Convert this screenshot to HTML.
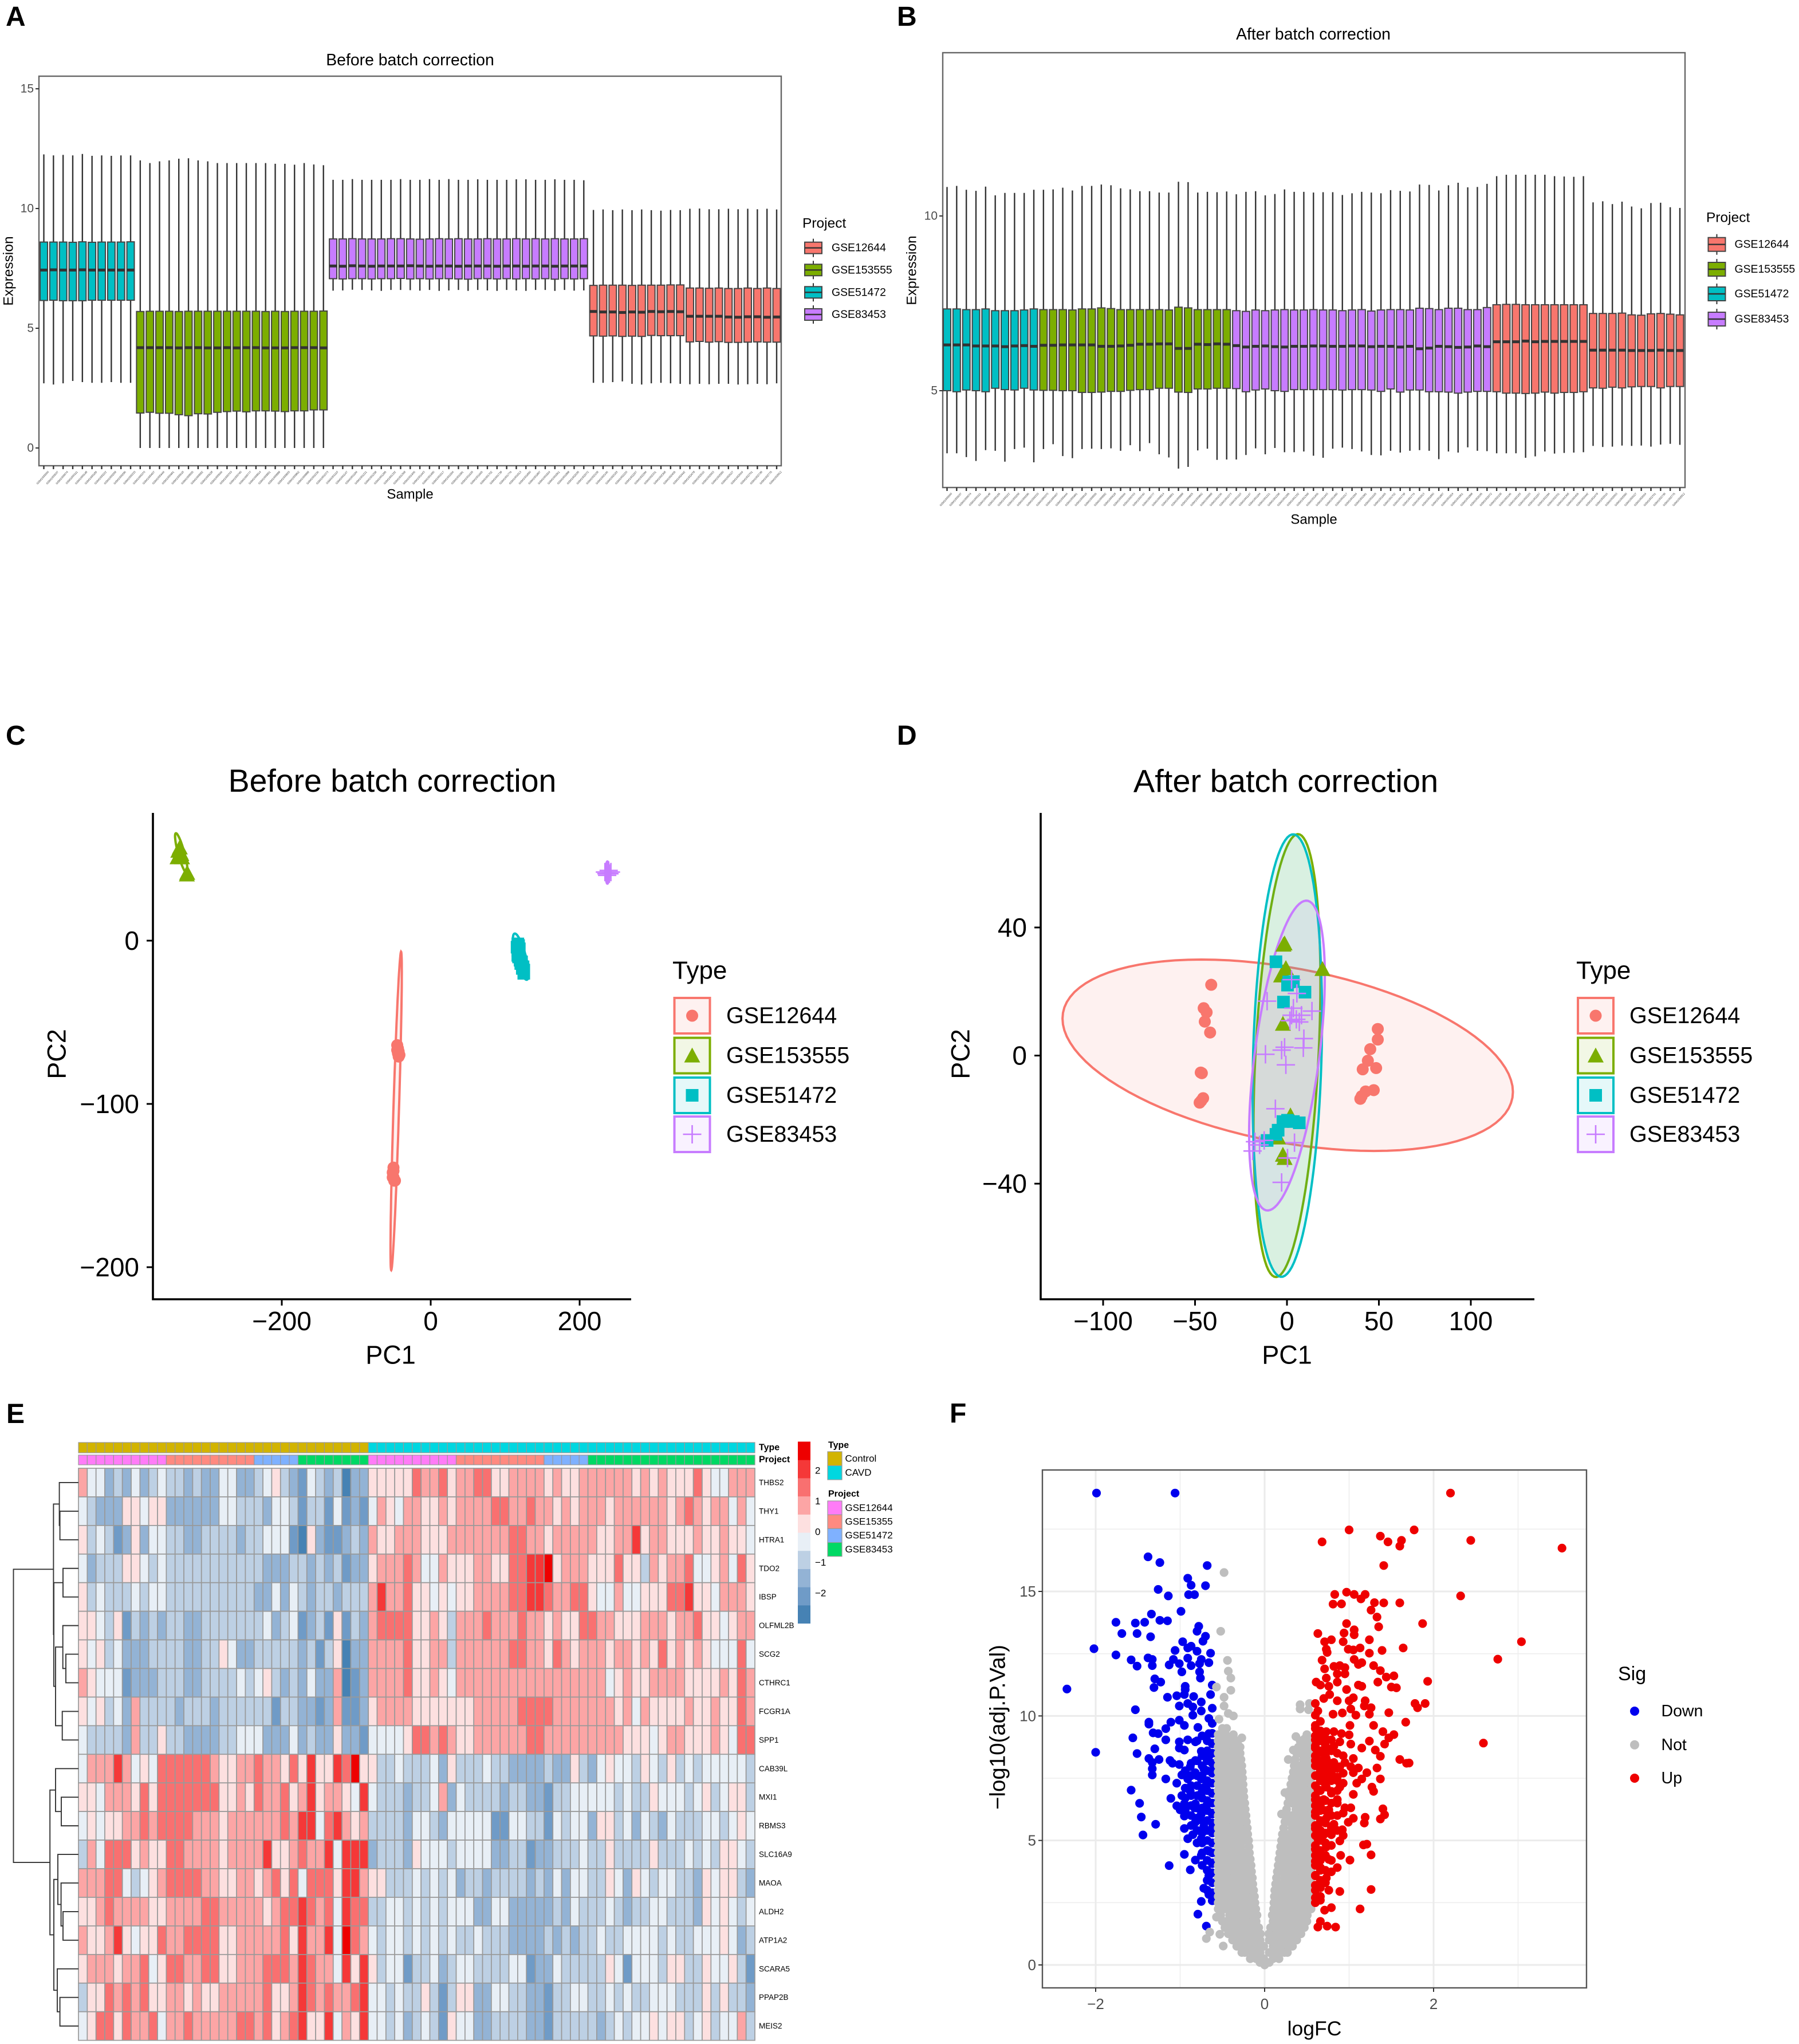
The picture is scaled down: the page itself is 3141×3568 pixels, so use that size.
<!DOCTYPE html>
<html lang="en">
<head>
<meta charset="utf-8">
<title>Batch correction figure</title>
<style>
html,body{margin:0;padding:0;background:#fff}
svg{display:block}
text{font-family:"Liberation Sans",Arial,sans-serif;fill:#000}
.lt{font-weight:bold;font-size:48px}
.tick{fill:#4d4d4d}
.tiny{fill:#333}
</style>
</head>
<body>
<svg id="figure" width="3141" height="3568" viewBox="0 0 3141 3568">
<rect x="0" y="0" width="3141" height="3568" fill="#fff"/>
<text class="lt" x="10" y="45">A</text>
<text class="lt" x="1566" y="45">B</text>
<text class="lt" x="10" y="1300">C</text>
<text class="lt" x="1566" y="1300">D</text>
<text class="lt" x="11" y="2484">E</text>
<text class="lt" x="1658" y="2483">F</text>

<g id="panel-a">
<text x="716" y="105" text-anchor="middle" dominant-baseline="central" font-size="28.4">Before batch correction</text>
<text x="716" y="863" text-anchor="middle" dominant-baseline="central" font-size="24">Sample</text>
<text transform="translate(15,473) rotate(-90)" text-anchor="middle" dominant-baseline="central" font-size="24.5">Expression</text>
<text x="1401" y="390" dominant-baseline="central" font-size="24.5">Project</text>
</g>
<g id="panel-b">
<text x="2293" y="60" text-anchor="middle" dominant-baseline="central" font-size="28.4">After batch correction</text>
<text x="2294" y="907" text-anchor="middle" dominant-baseline="central" font-size="24">Sample</text>
<text transform="translate(1592,472) rotate(-90)" text-anchor="middle" dominant-baseline="central" font-size="24.5">Expression</text>
<text x="2979" y="380" dominant-baseline="central" font-size="24.5">Project</text>
</g>
<g id="panel-c">
<text x="685" y="1363" text-anchor="middle" dominant-baseline="central" font-size="55.4">Before batch correction</text>
<text x="682" y="2365" text-anchor="middle" dominant-baseline="central" font-size="45">PC1</text>
<text transform="translate(99,1840) rotate(-90)" text-anchor="middle" dominant-baseline="central" font-size="45">PC2</text>
<text x="1174" y="1694" dominant-baseline="central" font-size="44">Type</text>
</g>
<g id="panel-d">
<text x="2245" y="1363" text-anchor="middle" dominant-baseline="central" font-size="56">After batch correction</text>
<text x="2247" y="2365" text-anchor="middle" dominant-baseline="central" font-size="45">PC1</text>
<text transform="translate(1677,1840) rotate(-90)" text-anchor="middle" dominant-baseline="central" font-size="45">PC2</text>
<text x="2752" y="1694" dominant-baseline="central" font-size="44">Type</text>
</g>
<g id="panel-e">
<text x="1325" y="2527" dominant-baseline="central" font-size="16" font-weight="bold">Type</text>
<text x="1325" y="2548" dominant-baseline="central" font-size="16" font-weight="bold">Project</text>
<text x="1446" y="2523" dominant-baseline="central" font-size="16" font-weight="bold">Type</text>
<text x="1446" y="2608" dominant-baseline="central" font-size="16" font-weight="bold">Project</text>
</g>
<g id="panel-f">
<text x="2295" y="3541" text-anchor="middle" dominant-baseline="central" font-size="35.5">logFC</text>
<text transform="translate(1742,3015) rotate(-90)" text-anchor="middle" dominant-baseline="central" font-size="38.4">−log10(adj.P.Val)</text>
<text x="2825" y="2922" dominant-baseline="central" font-size="34">Sig</text>
</g>
</svg>

<script>
/* ---------- shared categories ---------- */
const projectNames = ['GSE12644','GSE153555','GSE51472','GSE83453'];
const projectColors = {GSE12644:'#F8766D',GSE153555:'#7CAE00',GSE51472:'#00BFC4',GSE83453:'#C77CFF'};
const sampleGroups = [['GSE51472',10],['GSE153555',20],['GSE83453',27],['GSE12644',20]];

/* ---------- panel A values ---------- */
const aHigh = [12.26,12.22,12.24,12.22,12.28,12.2,12.22,12.2,12.22,12.22,
12.01,11.9,11.97,12.01,12.08,12.1,12.01,11.97,11.9,11.9,11.9,11.9,11.9,11.9,11.87,11.87,11.83,11.9,11.84,11.81,
11.2,11.2,11.23,11.2,11.2,11.2,11.2,11.23,11.2,11.2,11.23,11.2,11.23,11.2,11.2,11.22,11.2,11.2,11.2,11.22,11.22,11.2,11.2,11.22,11.2,11.2,11.18,
9.94,9.96,9.93,9.96,9.93,9.96,9.93,9.91,9.94,9.93,9.99,10,9.97,9.97,9.99,9.97,9.99,9.97,9.99,9.96];
const aQ3 = [8.6,8.6,8.6,8.59,8.61,8.59,8.6,8.6,8.6,8.61,
5.7,5.71,5.71,5.71,5.7,5.71,5.71,5.71,5.71,5.71,5.71,5.71,5.71,5.7,5.71,5.7,5.71,5.71,5.71,5.72,
8.73,8.73,8.74,8.73,8.73,8.73,8.74,8.74,8.73,8.72,8.73,8.74,8.73,8.74,8.73,8.73,8.74,8.73,8.73,8.74,8.73,8.74,8.73,8.74,8.73,8.73,8.74,
6.79,6.8,6.8,6.8,6.79,6.8,6.8,6.8,6.81,6.81,6.68,6.68,6.67,6.68,6.66,6.66,6.68,6.66,6.68,6.66];
const aMedian = [7.43,7.44,7.43,7.43,7.44,7.43,7.43,7.43,7.43,7.43,
4.19,4.19,4.19,4.19,4.18,4.19,4.19,4.18,4.18,4.19,4.18,4.19,4.19,4.18,4.18,4.18,4.19,4.19,4.19,4.18,
7.6,7.59,7.61,7.6,7.59,7.6,7.6,7.6,7.61,7.6,7.59,7.6,7.6,7.59,7.6,7.6,7.6,7.59,7.6,7.6,7.59,7.6,7.6,7.59,7.6,7.6,7.6,
5.7,5.68,5.68,5.66,5.68,5.67,5.7,5.69,5.7,5.69,5.5,5.5,5.5,5.5,5.47,5.46,5.48,5.48,5.46,5.47];
const aQ1 = [6.16,6.17,6.15,6.15,6.15,6.17,6.17,6.17,6.17,6.17,
1.46,1.49,1.45,1.45,1.39,1.35,1.43,1.42,1.49,1.52,1.54,1.51,1.55,1.55,1.54,1.52,1.55,1.55,1.59,1.59,
7.07,7.06,7.07,7.07,7.06,7.07,7.07,7.08,7.06,7.07,7.06,7.07,7.07,7.06,7.05,7.07,7.07,7.06,7.07,7.06,7.07,7.06,7.07,7.05,7.07,7.06,7.07,
4.68,4.67,4.68,4.66,4.67,4.66,4.7,4.69,4.69,4.69,4.43,4.45,4.42,4.44,4.41,4.41,4.42,4.43,4.42,4.42];
const aLow = [2.7,2.65,2.7,2.8,2.75,2.72,2.72,2.75,2.72,2.72,
0,0,0,0,0,0,0,0,0,0,0,0,0,0,0,0,0,0,0,0,
6.57,6.58,6.61,6.6,6.58,6.56,6.6,6.6,6.59,6.57,6.6,6.56,6.58,6.6,6.56,6.6,6.58,6.56,6.6,6.58,6.56,6.6,6.6,6.56,6.6,6.57,6.58,
2.72,2.72,2.75,2.78,2.68,2.65,2.7,2.72,2.7,2.68,2.66,2.68,2.66,2.68,2.68,2.65,2.66,2.68,2.66,2.7];
const aTicks = [0,5,10,15];

/* ---------- panel B values ---------- */
const bHigh = [10.83,10.86,10.75,10.72,10.84,10.59,10.66,10.66,10.66,10.75,
10.75,10.76,10.81,10.73,10.86,10.86,10.9,10.88,10.79,10.76,10.71,10.71,10.67,10.67,10.98,10.97,10.67,10.69,10.68,10.7,
10.62,10.69,10.71,10.59,10.63,10.76,10.69,10.69,10.67,10.68,10.68,10.6,10.65,10.69,10.67,10.65,10.74,10.72,10.7,10.9,10.89,10.73,10.88,10.95,10.82,10.83,10.92,
11.14,11.18,11.18,11.18,11.18,11.18,11.14,11.13,11.12,11.14,10.39,10.42,10.34,10.41,10.27,10.22,10.37,10.38,10.25,10.23];
const bQ3 = [7.34,7.34,7.32,7.32,7.34,7.29,7.29,7.29,7.31,7.34,
7.32,7.32,7.32,7.31,7.34,7.34,7.37,7.35,7.32,7.32,7.32,7.32,7.32,7.31,7.39,7.37,7.32,7.32,7.32,7.32,
7.29,7.27,7.31,7.29,7.31,7.32,7.31,7.31,7.32,7.31,7.31,7.29,7.31,7.32,7.28,7.31,7.32,7.32,7.31,7.36,7.35,7.32,7.36,7.36,7.32,7.32,7.38,
7.46,7.47,7.47,7.46,7.46,7.46,7.46,7.46,7.46,7.46,7.21,7.21,7.21,7.22,7.17,7.16,7.2,7.21,7.19,7.17];
const bMedian = [6.31,6.31,6.31,6.28,6.28,6.28,6.26,6.28,6.29,6.27,
6.3,6.3,6.31,6.31,6.31,6.31,6.27,6.27,6.28,6.3,6.33,6.33,6.34,6.34,6.21,6.21,6.33,6.32,6.34,6.33,
6.29,6.25,6.27,6.28,6.26,6.25,6.27,6.27,6.28,6.28,6.27,6.27,6.28,6.28,6.26,6.27,6.27,6.25,6.27,6.2,6.22,6.27,6.26,6.24,6.25,6.28,6.26,
6.4,6.4,6.4,6.42,6.4,6.41,6.41,6.41,6.41,6.41,6.16,6.16,6.16,6.16,6.15,6.15,6.15,6.16,6.15,6.15];
const bQ1 = [5,4.97,5.02,5,4.97,5.07,5.03,5.02,5.07,5.02,
5.01,5.01,5,5,4.95,4.95,4.96,4.98,4.98,5.01,5.03,5.03,5.07,5.07,4.96,4.95,5.05,5.05,5.07,5.07,
5.06,4.97,5.02,5.05,5,4.98,5.03,5.03,5.03,5.03,5.03,5.02,5.03,5.03,5.02,4.98,5.05,4.96,5.02,5.02,4.97,4.97,4.96,4.93,4.96,4.98,4.98,
4.97,4.93,4.93,4.92,4.93,4.96,4.93,4.95,4.95,4.97,5.08,5.07,5.1,5.08,5.11,5.12,5.12,5.08,5.12,5.12];
const bLow = [3.21,3.21,3.1,2.99,3.3,3.28,2.97,3.33,3.37,2.95,
3.33,3.47,3.13,3.07,3.33,3.34,3.33,3.35,3.28,3.44,3.27,3.5,3.18,3.09,2.77,2.82,3.29,3.34,3.02,3.03,
3.03,3.16,3.35,3.18,3.36,3.24,3.24,3.26,3.14,3.08,3.34,3.37,3.33,3.26,3.16,3.15,3.28,3.23,3.28,3.3,3.28,3.04,3.26,3.23,3.38,3.28,3.27,
3.21,3.21,3.21,3.08,3.12,3.26,3.2,3.22,3.23,3.24,3.42,3.39,3.4,3.43,3.42,3.43,3.4,3.46,3.48,3.45];
const bTicks = [5,10];

/* ---------- panel C values ---------- */
const cXTicks = [-200,0,200];
const cYTicks = [-200,-100,0];
const cRedPoints = [[-45,-64],[-44,-66],[-43,-68],[-43,-71],[-44,-69],[-45,-67],[-42,-70],[-50,-139],[-51,-142],[-50,-145],[-49,-147],[-48,-147],[-51,-145],[-50,-141]];
const cGreenPoints = [[-339,55],[-337,57],[-338,52],[-336,54],[-334,51],[-340,51],[-335,53],[-327.5,40.5],[-327,41.5]];
const cTealPoints = [[117,-2],[116,-4],[117,-6],[118,-8],[119,-5],[118,-10],[120,-12],[121,-14],[122,-13],[123,-17],[124,-16],[125,-18],[125,-20],[118,-3],[117,-9]];
const cPurplePoints = [[234,42],[236,41],[238,42],[240,41],[242,42],[237,40],[239,43]];
/* ellipse: centre, then two conjugate semi-axes, data units */
const cEllipseRed = [-46.4,-104.3,7.6,84.9,0,48];
const cEllipseGreen = [-335,53.6,8.4,-10.4,0,6.4];
const cEllipseTeal = [120.9,-9.8,10.6,-10.6,0,9.4];
const cEllipsePurple = [237.3,41.7,2.3,0,0,6.8];

/* ---------- panel D values ---------- */
const dXTicks = [-100,-50,0,50,100];
const dYTicks = [-40,0,40];
const dRedPoints = [[-41.2,22.1],[-45.3,14.8],[-43.7,13.5],[-44.7,10.6],[-41.8,7.2],[-46.9,-5.3],[-46.3,-5.5],[-45.6,-13.3],[-46.6,-14.1],[-47.5,-14.7],[49.4,8.3],[49.4,5],[45.3,2],[44,-1.6],[48.5,-3.9],[41.2,-4.3],[47.2,-10.8],[42.8,-11.2],[40.6,-12.7],[39.9,-13.5]];
const dGreenPoints = [[-1.3,35],[-1.9,34.6],[-.6,27.3],[-3.2,25],[-2.2,26],[19.3,27],[-2.2,9.9],[1.9,-18.7],[-4.8,-25.6],[-2.2,-31],[-1.3,-32]];
const dTealPoints = [[-6,29.3],[.95,23],[3.5,23.1],[.3,22],[9.8,19.8],[-1.9,16.7],[-2.2,-20.6],[.3,-20.2],[3.5,-20.6],[6.7,-21],[-4.8,-23.3],[-6,-24.6],[-10.8,-26.5]];
const dPurplePoints = [[2.5,23.7],[5.4,19.4],[-10.8,17],[3.5,14.8],[13.6,13.9],[2.5,12.6],[7.9,12.6],[5.1,11.3],[1.6,10.9],[6.7,10.5],[9.2,5.3],[-1.3,2.6],[-2.9,1.7],[-11.7,.4],[8.9,2.4],[-.6,-2.9],[-6.3,-16.6],[-17.4,-26.9],[-14.9,-27.9],[-12.4,-26.5],[-18.7,-29.8],[4.1,-27.2],[.3,-32],[-2.9,-39.6]];
const dEllipseRed = [.4,.1,122.5,-11.45,0,27.6];
const dEllipseGreen = [0,0,18.2,22.8,0,65.3];
const dEllipseTeal = [.2,0,18.9,11.7,0,68.1];
const dEllipsePurple = [0,0,20.6,24.7,0,41.6];

/* ---------- panel E values: colour-bin per gene, split Control | CAVD-part-1 | CAVD-part-2 ---------- */
const geneNames = ['THBS2','THY1','HTRA1','TDO2','IBSP','OLFML2B','SCG2','CTHRC1','FCGR1A','SPP1','CAB39L','MXI1','RBMS3','SLC16A9','MAOA','ALDH2','ATP1A2','SCARA5','PPAP2B','MEIS2'];
const heatRows = [
"644232423433232244223453214323022 5555576675 6677556666565566666656565557544666",
"432225545522222244333244313314121 4654665565 6666776676656566656666665676566464",
"534312524433223333233444105211232 6556665556 6666667766566666556685665556556554",
"423335543433333333333222332323122 5666764465 5566557788956665557553656674456475",
"534333434433333333332242432332333 6866755454 5566667788766775446445557785546665",
"554351323233223333333423412315132 6777755653 6667666766565577665556665667554566",
"545342223333223354223333323135022 6666755663 6666667766576566656656575656544474",
"654441222333223333434532324226012 6666755654 6666666666666666645655666655556576",
"545342633332333233333313322126112 5666655555 5566666777766666665646555565565576",
"433332633533222233444222423225221 4444577676 5566666677666666666555456655565477",
"466686454777777655667665758558795 5334333425 3334332222322532454435435343444443",
"554666575777777755657667568566548 4333233462 4333323322133444443433544434534553",
"454556676777766656666667688478656 3333244324 4444114433143442553424324333443454",
"364777565577666656666855676684888 2333254443 4444223312233343353333533343435543",
"666774345677776655665675747775886 5533343434 2332333323242443354254344332545532",
"556766665566667766666567787674877 3344343434 4422442222232433343233443332545434",
"655685455766777755666667586684976 4344343434 3343332222323233433444434334445423",
"566656674577667755666777687664858 5344133423 4433334412243333354144435533544531",
"355767675566565566666755687676678 4434335313 5522443322133443343433444333535332",
"457757667466766666776756785584658 4434234315 4422333322133333234344545534534463"];
const heatColors = ['#4682B4','#6F9BC7','#93B3D5','#BDD0E4','#E8EFF6','#FDE0E0','#FCA5A5','#F97070','#F53838','#EE0000'];
const typeGroups = [['Control',33],['CAVD',44]];
const typeColors = {Control:'#D2B400',CAVD:'#00D7E0'};
const projectGroupsE = [['GSE12644',10],['GSE15355',10],['GSE51472',5],['GSE83453',8],['GSE12644',10],['GSE15355',10],['GSE51472',5],['GSE83453',19]];
const projectColorsE = {GSE12644:'#FF7CF7',GSE15355:'#FF8A80',GSE51472:'#7FB1FF',GSE83453:'#00D964'};
const colorbarTicks = [-2,-1,0,1,2];
/* row dendrogram: [merge height, child, child]; numbers are leaf row indices */
const dendroTree = [113.5,
  [43.6,[33.4,0,[32.4,1,2]],[43,[27,3,4],[40,[27.3,5,[22,6,7]],[28.3,8,9]]]],
  [49.8,[40,10,[30,11,12]],[43,[36,13,[30.4,14,[27,15,16]]],[37,17,[32.4,18,19]]]]];

/* ---------- panel F values ---------- */
const fXMajor = [-2,0,2];
const fXMinor = [-1,1,3];
const fYMajor = [0,5,10,15];
const fYMinor = [2.5,7.5,12.5,17.5];
const downPoints = [[-1.99,18.95],[-1.06,18.95],[-1.38,16.39],[-1.24,16.16],[-.68,16.04],[-.91,15.53],[-1.26,15.08],[-.87,15.25],[-.7,15.23],[-1.14,14.82],[-.9,14.87],[-.83,14.87],[-.99,14.2],[-1.34,14.09],[-1.42,13.76],[-1.53,13.73],[-1.76,13.76],[-1.24,13.84],[-1.15,13.82],[-.78,13.6],[-.8,13.4],[-1.69,13.31],[-1.51,13.31],[-1.35,13.18],[-.7,13.2],[-.73,13],[-.97,12.98],[-2.02,12.7],[-.87,12.8],[-1.06,12.63],[-.8,12.6],[-.91,12.73],[-.64,12.52],[-1.76,12.45],[-1.58,12.25],[-1.51,12],[-1.38,12.33],[-1.33,12.27],[-1.33,12.02],[-1.08,12.27],[-.91,12.32],[-.75,12.27],[-1.13,12.05],[-1.01,12.1],[-.87,12.02],[-.77,12.1],[-.66,12.14],[-.98,11.77],[-.77,11.77],[-.76,11.52],[-1.3,11.49],[-1.23,11.36],[-1.31,11.14],[-2.34,11.08],[-.62,11.24],[-.94,11.19],[-.94,11.06],[-1.15,10.75],[-1.04,10.81],[-.95,10.86],[-.84,10.78],[-.64,10.86],[-1.01,10.4],[-.91,10.5],[-.75,10.56],[-.85,10.36],[-.62,10.31],[-1.53,10.25],[-.75,10.2],[-.85,10.03],[-.66,9.9],[-1.01,9.83],[-1.11,9.75],[-1.37,9.75],[-1.37,9.67],[-1.17,9.49],[-1.32,9.32],[-1.26,9.29],[-.95,9.62],[-.79,9.54],[-1.01,8.96],[-1.56,9.12],[-1.17,9.04],[-.91,9.04],[-.82,8.96],[-.66,9.29],[-.62,8.88],[-1.01,8.71],[-.75,8.58],[-2,8.54],[-1.51,8.49],[-1.3,8.68],[-.95,8.63],[-1.37,8.29],[-1.25,8.25],[-1.33,8.13],[-1.12,8.21],[-1.09,8.1],[-1.01,8.05],[-1.33,7.88],[-1.33,7.63],[-1.17,7.47],[-.82,8.21],[-.66,8.38],[-.88,7.96],[-.72,7.88],[-1.04,7.3],[-.98,7.63],[-.82,7.72],[-.62,7.8],[-.91,7.47],[-.75,7.47],[-.69,7.22],[-1.58,7.02],[-1.48,6.49],[-1.11,6.69],[-1.04,6.39],[-.98,6.8],[-.88,6.97],[-.75,6.89],[-.62,6.89],[-.82,6.47],[-.69,6.39],[-.95,6.47],[-1,6.23],[-.95,5.98],[-.83,6.31],[-.75,6.06],[-.62,6.06],[-1.46,5.94],[-1.29,5.65],[-1.44,5.22],[-.95,5.48],[-.91,5.07],[-.82,5.73],[-.72,5.56],[-.62,5.48],[-.85,5.23],[-.75,5.07],[-.62,4.9],[-.95,4.44],[-1.13,3.99],[-.66,4.57],[-.75,4.4],[-.82,4.21],[-.88,3.82],[-.62,4.07],[-.66,3.58],[-.72,3.08],[-.66,2.83],[-.75,2.55],[-.62,2.58],[-.79,2.04],[-.69,1.56],
[-.62,2.9],[-.62,3.3],[-.62,3.7],[-.62,4.1],[-.62,4.5],[-.62,4.9],[-.62,5.3],[-.62,5.7],[-.62,6.1],[-.62,6.5],[-.62,6.9],[-.62,7.3],[-.62,7.7],[-.62,8.1],[-.62,8.5],[-.62,8.9],[-.62,9.3],[-.62,9.7],
[-.68,3],[-.68,3.4],[-.68,3.8],[-.68,4.2],[-.68,4.6],[-.68,5],[-.68,5.4],[-.68,5.8],[-.68,6.2],[-.68,6.6],[-.68,7],[-.68,7.4],[-.68,7.8],[-.68,8.2],[-.68,8.6],[-.68,9],
[-.74,4],[-.74,4.5],[-.74,4.9],[-.74,5.3],[-.74,5.8],[-.74,6.3],[-.74,6.7],[-.74,7.1],[-.74,7.6],[-.74,8],[-.74,8.4],[-.74,9.2],
[-.8,4.9],[-.8,5.4],[-.8,5.9],[-.8,6.3],[-.8,6.8],[-.8,7.2],[-.8,7.6],[-.8,8.2],[-.8,9],
[-.87,5.6],[-.87,6],[-.87,6.4],[-.87,6.8],[-.87,7.2],[-.87,7.6],[-.87,8.1],
[-.94,6.2],[-.94,6.7],[-.94,7.1],[-.94,7.8]];
const notPoints = [[-.48,15.76],[-.52,13.4],[-.44,12.23],[-.43,11.8],[-.4,11.52],[-.57,11.16],[-.4,11.03],[-.48,10.75],[-.48,10.4],[-.54,9.87],[-.43,10.1],[-.37,10],[-.48,9.45],[-.27,9.12],[-.32,8.96],[.37,9.17],[.47,9.07],[.57,9.07],[.42,10.45],[.42,10.28],[.53,10.5],[.52,10.25],[.34,8.63],[.28,8.25],[.47,8.63],[.24,6.92],[.2,6.06],[-.69,1.06],[-.65,1.32],[-.53,1.23],[-.49,.76],[-.57,1.92]];
const notBandY = [0,.1,.25,.5,.75,1,1.25,1.5,1.75,2,2.25,2.5,2.75,3,3.25,3.5,3.75,4,4.25,4.5,4.75,5,5.25,5.5,5.75,6,6.25,6.5,6.75,7,7.25,7.5,7.75,8,8.25,8.5,8.75,9,9.25,9.5];
const notBandX = [
[0],
[-.055,.055],
[-.17,-.1,-.01,.1,.17],
[-.27,-.235,-.145,-.055,.055,.145,.235,.27],
[-.33,-.28,-.19,-.1,-.01,.1,.19,.28,.33],
[-.38,-.325,-.235,-.145,-.055,.055,.145,.235,.325,.38],
[-.43,-.37,-.28,-.19,-.1,-.05,.05,.1,.19,.28,.37,.43],
[-.47,-.415,-.325,-.235,-.145,-.07,.07,.145,.235,.325,.415,.47],
[-.5,-.46,-.37,-.28,-.19,-.1,.1,.19,.28,.37,.46,.5],
[-.52,-.415,-.325,-.235,-.145,-.09,.09,.145,.235,.325,.415,.505],
[-.55,-.46,-.37,-.28,-.19,-.105,.105,.19,.28,.37,.46,.55],
[-.55,-.505,-.415,-.325,-.235,-.145,-.115,.11,.145,.235,.325,.415,.505,.55],
[-.55,-.46,-.37,-.28,-.19,-.12,.115,.19,.28,.37,.46,.55],
[-.55,-.505,-.415,-.325,-.235,-.145,-.13,.12,.145,.235,.325,.415,.505,.55],
[-.55,-.46,-.37,-.28,-.19,-.14,.13,.19,.28,.37,.46,.55],
[-.55,-.505,-.415,-.325,-.235,-.145,.14,.235,.325,.415,.505,.55],
[-.55,-.46,-.37,-.28,-.19,-.155,.15,.19,.28,.37,.46,.55],
[-.55,-.505,-.415,-.325,-.235,-.16,.16,.235,.325,.415,.505,.55],
[-.55,-.46,-.37,-.28,-.19,-.17,.17,.19,.28,.37,.46,.55],
[-.55,-.505,-.415,-.325,-.235,-.18,.18,.235,.325,.415,.505,.55],
[-.55,-.46,-.37,-.28,-.185,.19,.28,.37,.46,.55],
[-.55,-.505,-.415,-.325,-.235,-.19,.2,.235,.325,.415,.505,.55],
[-.55,-.46,-.37,-.28,-.2,.21,.28,.37,.46,.55],
[-.55,-.505,-.415,-.325,-.235,-.205,.225,.325,.415,.505,.55],
[-.55,-.46,-.37,-.28,-.215,.24,.28,.37,.46,.55],
[-.55,-.505,-.415,-.325,-.235,-.22,.25,.325,.415,.505,.55],
[-.55,-.46,-.37,-.28,-.23,.26,.37,.46,.55],
[-.55,-.505,-.415,-.325,-.235,.275,.325,.415,.505,.55],
[-.55,-.46,-.37,-.28,-.245,.29,.37,.46,.55],
[-.55,-.505,-.415,-.325,-.25,.3,.325,.415,.505,.55],
[-.55,-.46,-.37,-.28,-.255,.31,.37,.46,.55],
[-.55,-.505,-.415,-.325,-.26,.325,.415,.505,.55],
[-.55,-.46,-.37,-.28,-.265,.34,.37,.46,.55],
[-.55,-.505,-.415,-.325,-.27,.35,.415,.505,.55],
[-.55,-.46,-.37,-.28,.36,.46,.55],
[-.55,-.505,-.415,-.325,-.29,.38,.415,.505,.55],
[-.55,-.46,-.37,-.29,.4,.46,.55],
[-.55,-.505,-.415,-.325,.42,.505,.55],
[-.55,-.46,-.37,.5],
[-.5,-.45]];
const upPoints = [[2.2,18.95],[1,17.47],[.68,16.99],[1.37,17.22],[1.46,16.99],[1.62,17.05],[1.6,16.82],[1.77,17.47],[2.44,17.05],[3.52,16.74],[1.41,16.04],[.83,14.88],[.97,14.97],[1.06,14.88],[1.19,14.88],[1.14,14.7],[.81,14.49],[.91,14.5],[1.3,14.55],[1.41,14.54],[1.6,14.54],[2.32,14.82],[1.26,14.25],[1.33,13.97],[1.35,13.58],[1.87,13.71],[.97,13.71],[1.06,13.46],[.63,13.31],[.94,13.33],[1.06,13.26],[3.04,12.98],[.71,12.98],[.79,13.06],[.93,12.98],[1.24,13.06],[.73,12.68],[.74,12.55],[.99,12.68],[1.05,12.65],[1.13,12.73],[1.24,12.52],[1.39,12.63],[1.64,12.73],[2.76,12.28],[.68,12.24],[1.06,12.27],[1.11,12.07],[1.15,12.14],[.71,11.89],[.82,11.99],[.89,12.02],[.95,11.94],[1.29,12.02],[1.37,11.82],[1.53,11.61],[.61,11.36],[.66,11.24],[.73,11.52],[.86,11.69],[.95,11.69],[1.44,11.56],[1.34,11.36],[1.93,11.39],[.76,11.19],[.86,11.36],[.97,11.06],[1.11,11.24],[1.15,11.19],[1.5,11.16],[1.56,11.13],[.77,10.86],[.86,10.61],[1,10.61],[1.05,10.73],[.6,10.5],[.7,10.7],[1.19,10.61],[1.18,10.4],[1.26,10.33],[1.78,10.5],[1.9,10.5],[1.81,10.33],[1.02,10.28],[.63,10.2],[.6,10.03],[.81,10.07],[.92,10.12],[1.08,10.03],[1.24,10.07],[1.47,10.13],[1.67,9.75],[.66,9.78],[.6,9.62],[1.01,9.62],[1.29,9.62],[1.4,9.37],[2.59,8.91],[1.53,9.25],[1.47,9.12],[1.42,8.87],[1.24,8.99],[.73,9.37],[.82,9.37],[.91,9.29],[1,9.24],[.66,9.21],[.6,9.04],[.7,8.96],[.79,9.04],[.89,8.96],[.73,8.71],[.82,8.79],[.6,8.71],[.66,8.54],[1.02,8.87],[1.15,8.71],[1.31,8.63],[1.37,8.38],[1.05,8.29],[1.6,8.25],[1.68,8.1],[1.71,8.11],[.73,8.29],[.82,8.13],[.66,8.05],[.6,8.21],[.95,8.13],[.89,7.96],[1.02,7.96],[1.11,7.91],[1.33,7.91],[.79,7.8],[.7,7.8],[1.05,7.72],[1.21,7.72],[.63,7.63],[.73,7.47],[.86,7.55],[1.15,7.47],[1.09,7.3],[1.37,7.47],[1.27,7.14],[1.29,6.97],[.89,7.14],[.73,7.14],[.63,7.05],[.79,6.97],[1.05,6.85],[.6,6.64],[.7,6.64],[.86,6.64],[.76,6.23],[.66,6.39],[.6,6.14],[.95,6.31],[1.02,6.31],[1.4,6.27],[1.42,6.03],[1.37,5.86],[1.05,5.89],[1.19,5.93],[1.18,5.7],[.92,5.43],[.99,5.73],[.73,5.89],[.66,5.73],[.6,5.48],[.82,5.65],[.7,5.23],[.79,5.23],[.89,4.98],[.63,5.07],[.73,4.74],[.6,4.65],[.68,4.4],[.9,4.4],[1.01,4.21],[1.17,4.82],[1.21,4.85],[1.26,4.42],[.6,4.16],[.76,4.24],[.66,3.91],[.86,3.91],[.6,3.58],[.73,3.49],[.79,3.74],[.66,3.25],[.6,3],[.76,3],[.89,2.95],[1.26,3.03],[.66,2.75],[.6,2.5],[.79,2.3],[.71,2.2],[1.13,2.25],[.66,1.75],[.63,1.52],[.74,1.56],[.84,1.52],
[.6,2.7],[.6,3.2],[.6,3.6],[.6,4],[.6,4.4],[.6,4.8],[.6,5.2],[.6,5.6],[.6,6],[.6,6.4],[.6,6.8],[.6,7.2],[.6,7.6],[.6,8],[.6,8.4],[.6,8.8],[.6,9.2],[.6,9.5],
[.66,2.6],[.66,3.1],[.66,3.4],[.66,3.8],[.66,4.2],[.66,4.6],[.66,5],[.66,5.4],[.66,5.8],[.66,6.2],[.66,6.6],[.66,7],[.66,7.4],[.66,7.8],[.66,8.2],[.66,8.6],[.66,9],[.66,9.4],
[.72,3.3],[.72,3.8],[.72,4.4],[.72,4.9],[.72,5.3],[.72,5.7],[.72,6.2],[.72,6.6],[.72,7.2],[.72,7.6],[.72,8],[.72,8.4],[.72,8.8],[.72,9.1],
[.79,4.2],[.79,4.8],[.79,5.5],[.79,6],[.79,6.5],[.79,6.9],[.79,7.4],[.79,7.7],[.79,8.1],[.79,8.6],
[.86,5.4],[.86,6],[.86,6.5],[.86,7],[.86,7.4],[.86,7.9],[.86,8.5],
[.93,5.2],[.93,6.1],[.93,7.3],[.93,7.7],[.93,8.4]];

/* ---------- helpers ---------- */
const figure = document.getElementById('figure');
const NS = figure.namespaceURI;
function mk(tag, attrs, parent){
  const el = document.createElementNS(NS, tag);
  for (const k in attrs) el.setAttribute(k, attrs[k]);
  parent.appendChild(el);
  return el;
}
function fmt(v){ return String(v).replace('-', '\u2212'); }
function linear(d0, r0, d1, r1){ return v => r0 + (v - d0) * (r1 - r0) / (d1 - d0); }
function expandGroups(groups){ const out = []; groups.forEach(g => { for (let i = 0; i < g[1]; i++) out.push(g[0]); }); return out; }

/* ---------- boxplots ---------- */
function drawBoxplot(panel, cfg){
  const frame = mk('rect',{x:cfg.left,y:cfg.top,width:cfg.right-cfg.left,height:cfg.bottom-cfg.top,fill:'#fff',stroke:'#666','stroke-width':2.4},panel);
  
  
  const xOf = linear(0,cfg.first,cfg.high.length-1,cfg.last);
  const yOf = cfg.y;
  const groups = expandGroups(sampleGroups);
  const step = (cfg.last-cfg.first)/(cfg.high.length-1);
  const w = step*0.77;
  cfg.high.forEach((hi,i)=>{
    const x = xOf(i);
    const g = mk('g',{},panel);
    
    
    mk('line',{x1:x,x2:x,y1:yOf(hi),y2:yOf(cfg.low[i]),stroke:'#333','stroke-width':2.4},g);
    mk('rect',{x:x-w/2,y:yOf(cfg.q3[i]),width:w,height:yOf(cfg.q1[i])-yOf(cfg.q3[i]),fill:projectColors[groups[i]],stroke:'#444','stroke-width':2},g);
    mk('line',{x1:x-w/2,x2:x+w/2,y1:yOf(cfg.median[i]),y2:yOf(cfg.median[i]),stroke:'#333','stroke-width':5},g);
    mk('line',{x1:x,x2:x,y1:cfg.bottom,y2:cfg.bottom+6,stroke:'#333','stroke-width':2.4},g);
    const lab = mk('text',{transform:'translate('+(x+9)+','+(cfg.bottom+11)+') rotate(-48)','text-anchor':'end','font-size':4.8,class:'tiny'},g);
    lab.textContent = 'GSM'+(1000000+i*37);
    
    
  });
  cfg.ticks.forEach(v=>{
    const t = mk('line',{x1:cfg.left-6,x2:cfg.left,y1:yOf(v),y2:yOf(v),stroke:'#333','stroke-width':2},panel);
    
    
    const l = mk('text',{x:cfg.left-9,y:yOf(v),'text-anchor':'end','dominant-baseline':'central','font-size':21,class:'tick'},panel);
    l.textContent = fmt(v);
    
    
  });
  projectNames.forEach((name,i)=>{
    const cy = cfg.legendY[i];
    const k = mk('g',{},panel);
    
    
    mk('line',{x1:cfg.legendX,x2:cfg.legendX,y1:cy-cfg.keyH/2-6,y2:cy+cfg.keyH/2+6,stroke:'#333','stroke-width':2},k);
    mk('rect',{x:cfg.legendX-15,y:cy-cfg.keyH/2,width:30,height:cfg.keyH,fill:projectColors[name],stroke:'#444','stroke-width':2},k);
    mk('line',{x1:cfg.legendX-15,x2:cfg.legendX+15,y1:cy,y2:cy,stroke:'#333','stroke-width':2.4},k);
    const l = mk('text',{x:cfg.legendText,y:cy,'dominant-baseline':'central','font-size':19.4},k);
    l.textContent = name;
  });
}
drawBoxplot(document.getElementById('panel-a'),{left:68,right:1364,top:133,bottom:813,first:76.5,last:1356,
  y:linear(0,782,15,155),high:aHigh,q3:aQ3,median:aMedian,q1:aQ1,low:aLow,ticks:aTicks,
  legendX:1420,legendText:1452,legendY:[432.7,471.3,510.3,549],keyH:20});
drawBoxplot(document.getElementById('panel-b'),{left:1646,right:2942,top:92,bottom:851,first:1653.5,last:2933,
  y:linear(5,682,10,377),high:bHigh,q3:bQ3,median:bMedian,q1:bQ1,low:bLow,ticks:bTicks,
  legendX:2997.5,legendText:3028.5,legendY:[426.7,470,513,557],keyH:24});

/* ---------- PCA ---------- */
function marker(kind, parent, px, py, color){
  if (kind === 'circle') return mk('circle',{cx:px,cy:py,r:10.5,fill:color},parent);
  if (kind === 'triangle') return mk('polygon',{points:(px-14)+','+(py+12)+' '+(px+14)+','+(py+12)+' '+px+','+(py-14),fill:color},parent);
  if (kind === 'square') return mk('rect',{x:px-11,y:py-11,width:22,height:22,fill:color},parent);
  return mk('path',{d:'M'+(px-16)+' '+py+'H'+(px+16)+'M'+px+' '+(py-16)+'V'+(py+16),stroke:color,'stroke-width':2.6,fill:'none'},parent);
}
const markerKinds = {GSE12644:'circle',GSE153555:'triangle',GSE51472:'square',GSE83453:'plus'};
function ellipsePath(e, xOf, yOf){
  let d = '';
  for (let i = 0; i <= 96; i++){
    const t = i/96*2*Math.PI;
    const dx = e[0]+e[2]*Math.cos(t)+e[4]*Math.sin(t);
    const dy = e[1]+e[3]*Math.cos(t)+e[5]*Math.sin(t);
    d += (i?'L':'M')+xOf(dx).toFixed(1)+' '+yOf(dy).toFixed(1);
  }
  return d+'Z';
}
function drawPca(panel, cfg){
  const xOf = cfg.x, yOf = cfg.y;
  projectNames.forEach((name,i)=>{
    const p = mk('path',{d:ellipsePath(cfg.ellipses[i],xOf,yOf),fill:projectColors[name],'fill-opacity':.1,stroke:projectColors[name],'stroke-width':4},panel);
    
    
  });
  projectNames.forEach((name,i)=>{
    cfg.points[i].forEach(pt=>{
      const m = marker(markerKinds[name],panel,xOf(pt[0]),yOf(pt[1]),projectColors[name]);
      
      
    });
  });
  const ax = mk('path',{d:'M'+cfg.left+' '+cfg.top+'V'+cfg.bottom+'H'+cfg.right,fill:'none',stroke:'#000','stroke-width':3.6},panel);
  
  
  cfg.xTicks.forEach(v=>{
    const t = mk('line',{x1:xOf(v),x2:xOf(v),y1:cfg.bottom,y2:cfg.bottom+11,stroke:'#000','stroke-width':3},panel);
    
    
    const l = mk('text',{x:xOf(v),y:2306,'text-anchor':'middle','dominant-baseline':'central','font-size':46},panel);
    l.textContent = fmt(v);
    
    
  });
  cfg.yTicks.forEach(v=>{
    const t = mk('line',{x1:cfg.left-11,x2:cfg.left,y1:yOf(v),y2:yOf(v),stroke:'#000','stroke-width':3},panel);
    
    
    const l = mk('text',{x:cfg.left-24,y:yOf(v),'text-anchor':'end','dominant-baseline':'central','font-size':46},panel);
    l.textContent = fmt(v);
    
    
  });
  const centers = [1773,1842.6,1912,1980];
  projectNames.forEach((name,i)=>{
    const cy = centers[i];
    const k = mk('g',{},panel);
    
    
    mk('rect',{x:cfg.legendX-31,y:cy-31,width:62,height:62,fill:projectColors[name],'fill-opacity':.1,stroke:projectColors[name],'stroke-width':4},k);
    marker(markerKinds[name],k,cfg.legendX,cy,projectColors[name]);
    const l = mk('text',{x:cfg.legendText,y:cy,'dominant-baseline':'central','font-size':39.5},k);
    l.textContent = name;
  });
}
drawPca(document.getElementById('panel-c'),{left:267,right:1102,top:1419,bottom:2268,
  x:linear(0,752,200,1012),y:linear(0,1642,-100,1927),
  ellipses:[cEllipseRed,cEllipseGreen,cEllipseTeal,cEllipsePurple],
  points:[cRedPoints,cGreenPoints,cTealPoints,cPurplePoints],
  xTicks:cXTicks,yTicks:cYTicks,legendX:1208.5,legendText:1268});
drawPca(document.getElementById('panel-d'),{left:1817,right:2679,top:1419,bottom:2268,
  x:linear(0,2247,100,2568),y:linear(0,1842.6,40,1619),
  ellipses:[dEllipseRed,dEllipseGreen,dEllipseTeal,dEllipsePurple],
  points:[dRedPoints,dGreenPoints,dTealPoints,dPurplePoints],
  xTicks:dXTicks,yTicks:dYTicks,legendX:2786,legendText:2845});

/* ---------- heatmap ---------- */
(function(){
  const panel = document.getElementById('panel-e');
  const left = 137, top = 2563, cw = (1318-137)/77, ch = (3561.6-2563)/20;
  const xOf = c => left + c*cw;
  const yOf = r => top + r*ch;
  const borderColor = '#999';
  const typeCols = expandGroups(typeGroups);
  const projCols = expandGroups(projectGroupsE);
  typeCols.forEach((t,c)=>{
    const a = mk('rect',{x:xOf(c),y:2518,width:cw,height:18,fill:typeColors[t],stroke:borderColor,'stroke-width':1.2},panel);
    
    
  });
  projCols.forEach((t,c)=>{
    const a = mk('rect',{x:xOf(c),y:2540,width:cw,height:17,fill:projectColorsE[t],stroke:borderColor,'stroke-width':1.2},panel);
    
    
  });
  heatRows.forEach((row,r)=>{
    row.replace(/ /g,'').split('').forEach((bin,c)=>{
      const cell = mk('rect',{x:xOf(c),y:yOf(r),width:cw,height:ch,fill:heatColors[+bin],stroke:borderColor,'stroke-width':1.7},panel);
      
      
    });
    const lab = mk('text',{x:1325,y:yOf(r)+ch/2,'dominant-baseline':'central','font-size':13.5},panel);
    lab.textContent = geneNames[r];
    
    
  });
  /* dendrogram */
  function walk(node, parent){
    if (typeof node === 'number') return {x:left,y:yOf(node)+ch/2};
    const a = walk(node[1],parent), b = walk(node[2],parent);
    const x = left - node[0];
    const link = mk('path',{d:'M'+a.x+' '+a.y+'H'+x+'V'+b.y+'H'+b.x,fill:'none',stroke:'#333','stroke-width':1.9},parent);
    
    
    return {x:x,y:(a.y+b.y)/2};
  }
  const dg = mk('g',{},panel);
  
  
  walk(dendroTree,dg);
  /* colour bar */
  const binH = (2833.6-2516.5)/heatColors.length;
  heatColors.forEach((col,i)=>{
    const b = mk('rect',{x:1393,y:2516.5+(heatColors.length-1-i)*binH,width:22,height:binH+.5,fill:col},panel);
    
    
  });
  const barY = linear(0,2674,2,2567);
  colorbarTicks.forEach(v=>{
    const l = mk('text',{x:1423,y:barY(v),'dominant-baseline':'central','font-size':17},panel);
    l.textContent = fmt(v);
    
    
  });
  /* annotation legends */
  Object.keys(typeColors).forEach((name,i)=>{
    const g = mk('g',{},panel);
    
    
    mk('rect',{x:1445,y:2534+i*24.5,width:25,height:24.5,fill:typeColors[name],stroke:borderColor,'stroke-width':1.2},g);
    const l = mk('text',{x:1475.5,y:2546+i*24.5,'dominant-baseline':'central','font-size':17},g);
    l.textContent = name;
  });
  Object.keys(projectColorsE).forEach((name,i)=>{
    const g = mk('g',{},panel);
    
    
    mk('rect',{x:1445,y:2620+i*24.2,width:25,height:24.2,fill:projectColorsE[name],stroke:borderColor,'stroke-width':1.2},g);
    const l = mk('text',{x:1475.5,y:2632+i*24.1,'dominant-baseline':'central','font-size':17},g);
    l.textContent = name;
  });
})();

/* ---------- volcano ---------- */
(function(){
  const panel = document.getElementById('panel-f');
  const left = 1820, right = 2770, top = 2566, bottom = 3470;
  const xOf = linear(0,2208,2,2503);
  const yOf = linear(0,3430,15,2778);
  fXMinor.forEach(v=>{
    const g = mk('line',{x1:xOf(v),x2:xOf(v),y1:top,y2:bottom,stroke:'#eeeeee','stroke-width':1.6},panel);
    
    
  });
  fYMinor.forEach(v=>{
    const g = mk('line',{x1:left,x2:right,y1:yOf(v),y2:yOf(v),stroke:'#eeeeee','stroke-width':1.6},panel);
    
    
  });
  fXMajor.forEach(v=>{
    const g = mk('line',{x1:xOf(v),x2:xOf(v),y1:top,y2:bottom,stroke:'#ebebeb','stroke-width':3},panel);
    
    
  });
  fYMajor.forEach(v=>{
    const g = mk('line',{x1:left,x2:right,y1:yOf(v),y2:yOf(v),stroke:'#ebebeb','stroke-width':3},panel);
    
    
  });
  const r = 7.6;
  downPoints.forEach(p=>{
    const c = mk('circle',{cx:xOf(p[0]),cy:yOf(p[1]),r:r,fill:'#0000EE'},panel);
    
    
  });
  notPoints.forEach(p=>{
    const c = mk('circle',{cx:xOf(p[0]),cy:yOf(p[1]),r:r,fill:'#BEBEBE'},panel);
    
    
  });
  notBandY.forEach((y,i)=>{
    notBandX[i].forEach(x=>{
      const c = mk('circle',{cx:xOf(x),cy:yOf(y),r:r,fill:'#BEBEBE'},panel);
      
      
    });
  });
  upPoints.forEach(p=>{
    const c = mk('circle',{cx:xOf(p[0]),cy:yOf(p[1]),r:r,fill:'#EE0000'},panel);
    
    
  });
  const frame = mk('rect',{x:left,y:top,width:right-left,height:bottom-top,fill:'none',stroke:'#555','stroke-width':2.4},panel);
  
  
  fXMajor.forEach(v=>{
    const t = mk('line',{x1:xOf(v),x2:xOf(v),y1:bottom,y2:bottom+7,stroke:'#333','stroke-width':2},panel);
    
    
    const l = mk('text',{x:xOf(v),y:3498,'text-anchor':'middle','dominant-baseline':'central','font-size':26,class:'tick'},panel);
    l.textContent = fmt(v);
    
    
  });
  fYMajor.forEach(v=>{
    const t = mk('line',{x1:left-7,x2:left,y1:yOf(v),y2:yOf(v),stroke:'#333','stroke-width':2},panel);
    
    
    const l = mk('text',{x:left-11,y:yOf(v),'text-anchor':'end','dominant-baseline':'central','font-size':26,class:'tick'},panel);
    l.textContent = fmt(v);
    
    
  });
  const sigNames = ['Down','Not','Up'];
  const sigColors = ['#0000EE','#BEBEBE','#EE0000'];
  const sigY = [2987,3045.8,3104];
  sigNames.forEach((name,i)=>{
    const g = mk('g',{},panel);
    
    
    mk('circle',{cx:2854,cy:sigY[i],r:8,fill:sigColors[i]},g);
    const l = mk('text',{x:2900.5,y:sigY[i],'dominant-baseline':'central','font-size':28.5},g);
    l.textContent = name;
  });
})();
</script>
</body>
</html>
